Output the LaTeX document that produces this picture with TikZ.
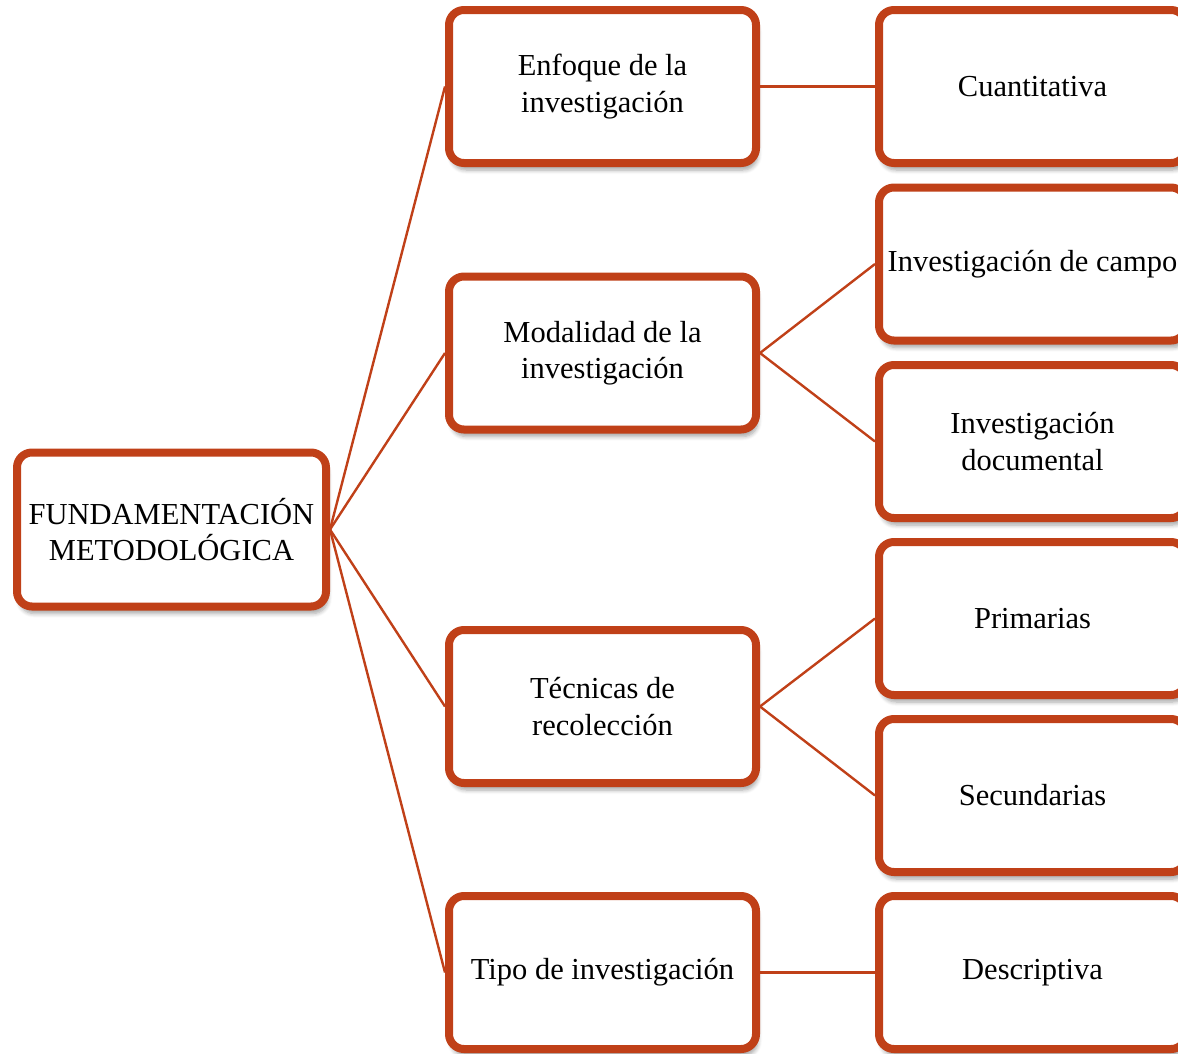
\documentclass[tikz,border=0pt]{standalone}
\usepackage{fontspec}
\setmainfont{Liberation Serif}
\usetikzlibrary{shadows.blur}
\definecolor{rust}{RGB}{192,64,24}
\begin{document}
\begin{tikzpicture}[x=1pt,y=-1pt,
  box/.style={draw=rust, line width=8pt, fill=white, rounded corners=15pt,
    minimum width=307pt, minimum height=153pt, align=center,
    inner sep=2pt, text=black,
    font=\fontsize{30.5}{36.5}\selectfont,
    blur shadow={shadow xshift=2pt, shadow yshift=-7pt, shadow blur steps=6,
      shadow blur radius=4pt, shadow opacity=35}},
  link/.style={draw=rust, line width=2.4pt}]
\useasboundingbox (0,0) rectangle (1178,1053);
\node[box, minimum width=309pt, minimum height=154pt] (root) at (171.5,529.5) {FUNDAMENTACIÓN\\METODOLÓGICA};
\node[box] (enf) at (602.5,86.5) {Enfoque de la\\investigación};
\node[box] (mod) at (602.5,353) {Modalidad de la\\investigación};
\node[box] (tec) at (602.5,706.5) {Técnicas de\\recolección};
\node[box] (tip) at (602.5,972.5) {Tipo de investigación};
\node[box] (cua) at (1032.5,86.5) {Cuantitativa};
\node[box] (cam) at (1032.5,264) {Investigación de campo};
\node[box] (doc) at (1032.5,441.5) {Investigación\\documental};
\node[box] (pri) at (1032.5,618.5) {Primarias};
\node[box] (sec) at (1032.5,795.5) {Secundarias};
\node[box] (des) at (1032.5,972.5) {Descriptiva};
\draw[link] (root.east) -- (enf.west);
\draw[link] (root.east) -- (mod.west);
\draw[link] (root.east) -- (tec.west);
\draw[link] (root.east) -- (tip.west);
\draw[link] (enf.east) -- (cua.west);
\draw[link] (mod.east) -- (cam.west);
\draw[link] (mod.east) -- (doc.west);
\draw[link] (tec.east) -- (pri.west);
\draw[link] (tec.east) -- (sec.west);
\draw[link] (tip.east) -- (des.west);
\end{tikzpicture}
\end{document}
